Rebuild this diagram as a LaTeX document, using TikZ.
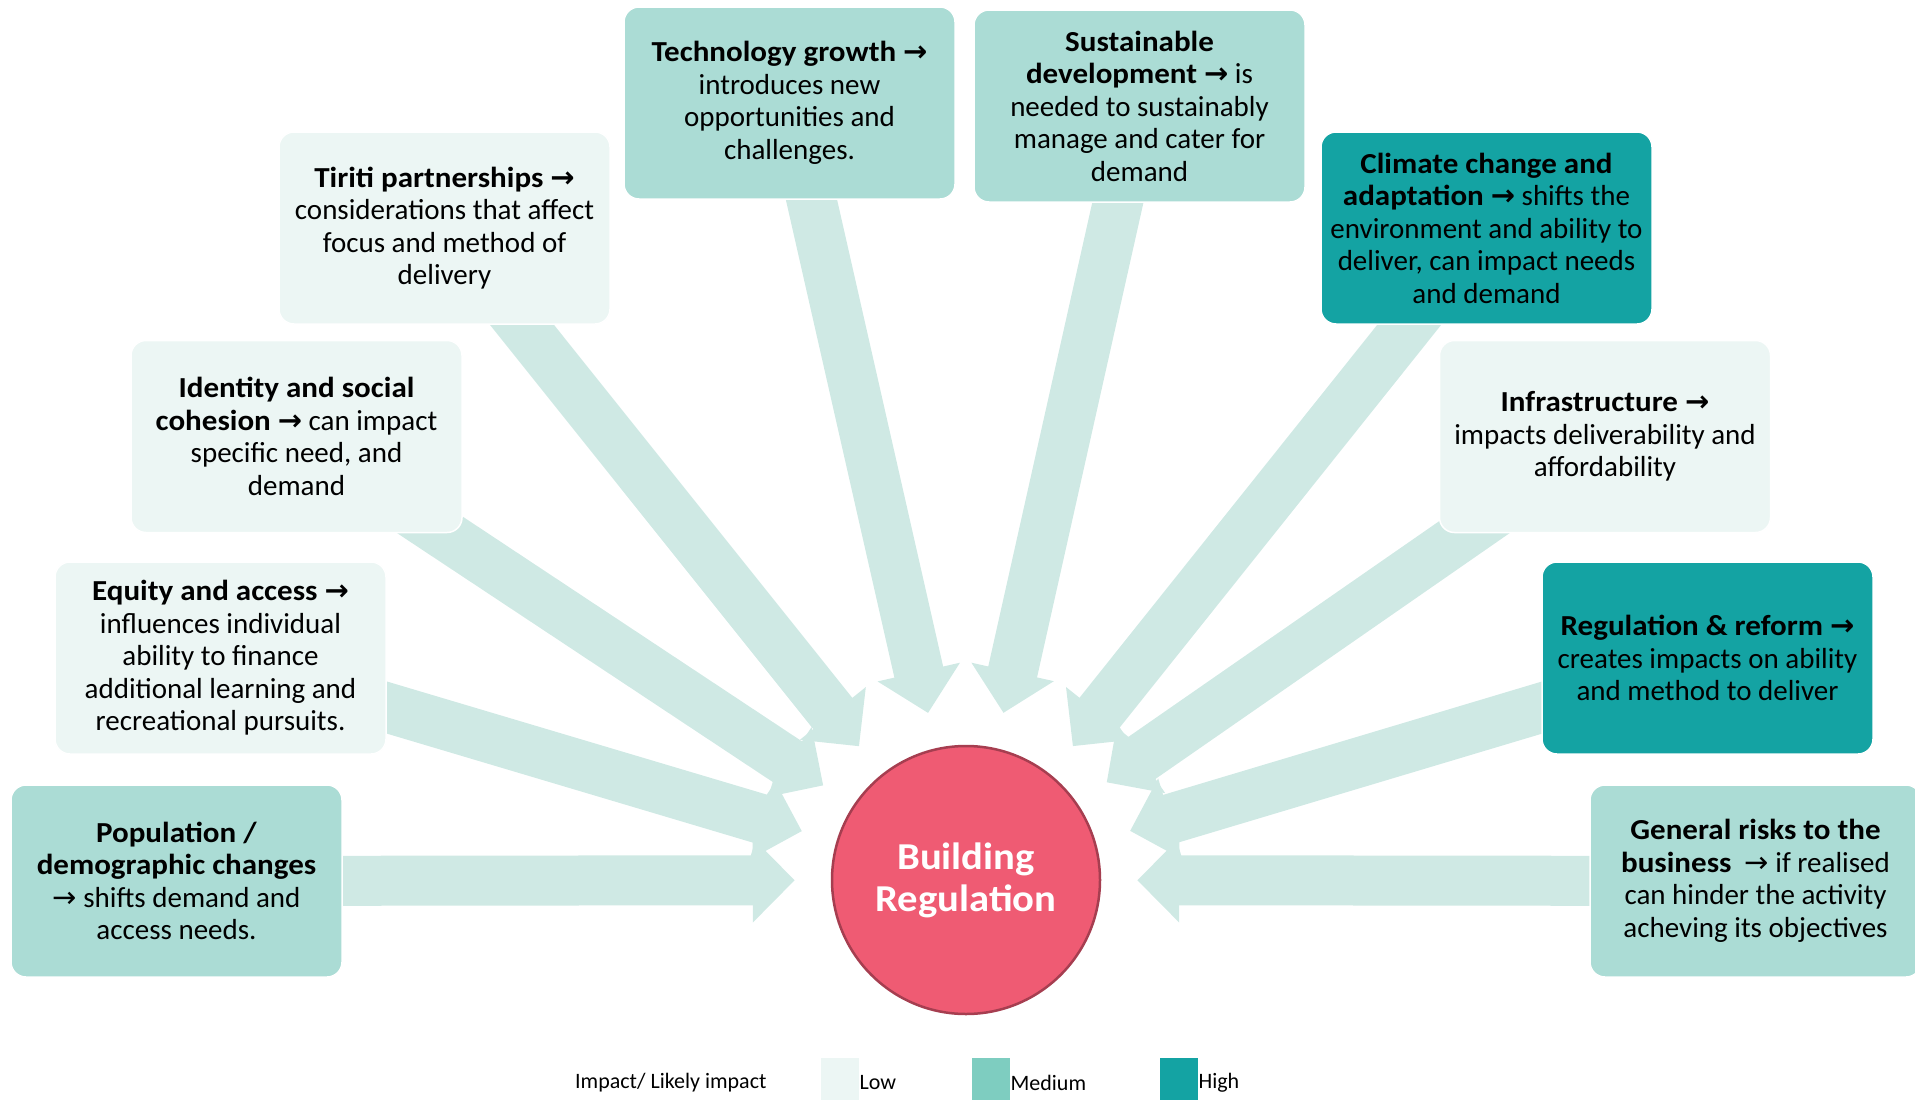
\documentclass[tikz,border=0pt]{standalone}
\usepackage{fontspec}
\setmainfont{Carlito}[BoldFeatures={FakeStretch=1.07}]
\newfontfamily\arrfont{DejaVu Sans}
\usetikzlibrary{arrows.meta,backgrounds}

\definecolor{lowc}{HTML}{ECF6F4}
\definecolor{medc}{HTML}{ABDCD5}
\definecolor{highc}{HTML}{14A3A3}
\definecolor{legmed}{HTML}{7ECDC0}
\definecolor{flowc}{HTML}{CFE9E4}
\definecolor{hubfill}{HTML}{EF5B73}
\definecolor{hubline}{HTML}{A63E50}

% right arrow glyph used inside the factor boxes
\newcommand{\ra}{{\arrfont →}}

\begin{document}
\begin{tikzpicture}[x=1pt,y=-1pt,
  factor/.style={rounded corners=15pt, minimum width=331pt, minimum height=192pt,
    align=center, inner sep=0pt, text=black, draw=white, line width=1.5pt,
    font=\fontsize{29}{32.5}\selectfont},
  low/.style={factor, fill=lowc},
  med/.style={factor, fill=medc},
  high/.style={factor, fill=highc},
  flow/.style={draw=flowc, line width=50pt, -{Triangle[length=42pt,width=82pt]},
    shorten >=36pt},
  legsq/.style={minimum width=38pt, minimum height=42pt, inner sep=0pt,
    anchor=north west},
  legtxt/.style={anchor=west, inner sep=0pt, font=\fontsize{22}{26}\selectfont}
]
\useasboundingbox (0,0) rectangle (1915,1100);

% central hub
\node[circle, minimum size=268pt, inner sep=0pt, fill=hubfill, draw=hubline,
  line width=2.5pt, text=white, align=center,
  font=\bfseries\fontsize{38}{42}\selectfont] (hub) at (966,880) {Building\\Regulation};

% factor boxes
\node[med]  (pop) at (176.5,881) {\textbf{Population /}\\\textbf{demographic changes}\\\ra{} shifts demand and\\access needs.};
\node[low]  (equ) at (220.5,658) {\textbf{Equity and access \ra}\\influences individual\\ability to finance\\additional learning and\\recreational pursuits.};
\node[low]  (idn) at (296.5,436.5) {\textbf{Identity and social}\\\textbf{cohesion \ra} can impact\\specific need, and\\demand};
\node[low]  (tir) at (444.5,228) {\textbf{Tiriti partnerships \ra}\\considerations that affect\\focus and method of\\delivery};
\node[med]  (tec) at (789.5,103) {\textbf{Technology growth \ra}\\introduces new\\opportunities and\\challenges.};
\node[med]  (sus) at (1139.5,106) {\textbf{Sustainable}\\\textbf{development \ra} is\\needed to sustainably\\manage and cater for\\demand};
\node[high] (cli) at (1486.5,228) {\textbf{Climate change and}\\\textbf{adaptation \ra} shifts the\\environment and ability to\\deliver, can impact needs\\and demand};
\node[low]  (inf) at (1605,436.5) {\textbf{Infrastructure \ra}\\impacts deliverability and\\affordability};
\node[high] (reg) at (1707.5,658) {\textbf{Regulation \& reform \ra}\\creates impacts on ability\\and method to deliver};
\node[med]  (gen) at (1755.5,881) {\textbf{General risks to the}\\\textbf{business}\ \ \ra{} if realised\\can hinder the activity\\acheving its objectives};

% block arrows from every factor into the hub, kept behind the boxes
\begin{scope}[on background layer]
  \foreach \src in {pop,equ,idn,tir,tec,sus,cli,inf,reg,gen}
    \draw[flow] (\src.center) -- (hub);
\end{scope}

% legend
\node[legtxt] (legt) at (575,1083) {Impact/ Likely impact};
\node[legsq, fill=lowc]   (lsq) at (821,1058) {};
\node[legtxt] (llow) at (lsq.east |- legt.west) {Low};
\node[legsq, fill=legmed] (msq) at (972,1058) {};
\node[legtxt] (lmed) at (msq.east |- legt.west) {Medium};
\node[legsq, fill=highc]  (hsq) at (1160,1058) {};
\node[legtxt] (lhigh) at (hsq.east |- legt.west) {High};
\end{tikzpicture}
\end{document}
